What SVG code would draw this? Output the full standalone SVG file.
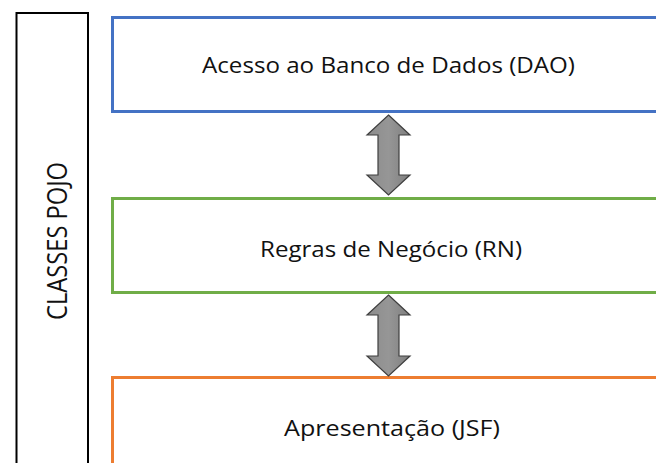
<svg xmlns="http://www.w3.org/2000/svg" width="656" height="463" viewBox="0 0 656 463">
<defs>
<linearGradient id="g" x1="0" y1="0" x2="1" y2="0">
<stop offset="0" stop-color="#8c8c8c"/>
<stop offset="0.5" stop-color="#969696"/>
<stop offset="1" stop-color="#7f7f7f"/>
</linearGradient>
<style>
.t{font-family:"Open Sans","Liberation Sans",sans-serif;font-size:22px;fill:#111;}
.box{fill:#fff;stroke-width:3;}
.arr{fill:url(#g);stroke:#3f3f3f;stroke-width:1.2;stroke-linejoin:miter;}
</style>
</defs>
<rect width="656" height="463" fill="#fff"/>
<g id="pojo">
<rect x="16.5" y="13" width="71.5" height="460" fill="#fff" stroke="#000" stroke-width="2"/>
<text class="t" style="font-size:28px" transform="translate(67,241) rotate(-90)" text-anchor="middle" textLength="158" lengthAdjust="spacingAndGlyphs">CLASSES POJO</text>
</g>
<g id="dao">
<rect class="box" x="112.5" y="17.5" width="560" height="94" stroke="#4472c4"/>
<text class="t" x="388.5" y="72.5" text-anchor="middle" textLength="373" lengthAdjust="spacingAndGlyphs">Acesso ao Banco de Dados (DAO)</text>
</g>
<g id="rn">
<rect class="box" x="112.5" y="198.5" width="560" height="94" stroke="#70ad47"/>
<text class="t" x="391" y="256.5" text-anchor="middle" textLength="262" lengthAdjust="spacingAndGlyphs">Regras de Negócio (RN)</text>
</g>
<g id="jsf">
<rect class="box" x="112.5" y="377.5" width="560" height="100" stroke="#ed7d31"/>
<text class="t" x="392" y="436" text-anchor="middle" textLength="216" lengthAdjust="spacingAndGlyphs">Apresentação (JSF)</text>
</g>
<g id="connectors">
<path class="arr" d="M388.5,115 L410,135 L399,135 L399,175 L410,175 L388.5,195 L367,175 L378,175 L378,135 L367,135 Z"/>
<path class="arr" d="M388.5,295 L410,315 L399,315 L399,356 L410,356 L388.5,376 L367,356 L378,356 L378,315 L367,315 Z"/>
</g>
</svg>
